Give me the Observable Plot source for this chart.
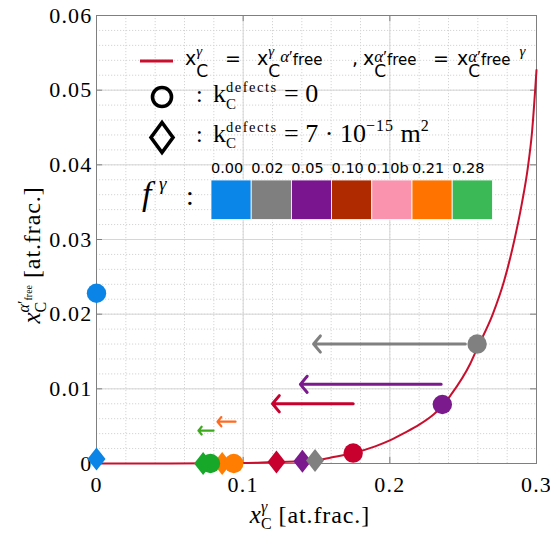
<!DOCTYPE html>
<html><head><meta charset="utf-8">
<script src="https://cdn.jsdelivr.net/npm/d3@7"></script>
<script src="https://cdn.jsdelivr.net/npm/@observablehq/plot@0.6"></script>
<style>
html,body{margin:0;padding:0;background:#fff}
#wrap{position:relative;width:550px;height:533px;overflow:hidden}
#wrap svg{display:block}
.t{position:absolute;left:0;top:0;white-space:nowrap;line-height:1;color:#000}
.serif{font-family:Liberation Serif,serif}
.sans{font-family:DejaVu Sans,sans-serif}
.st{display:inline-grid;align-items:baseline;justify-items:start}
.st>*{grid-area:1/1;position:relative}
i{font-style:italic}
</style></head><body><div id="wrap"></div>
<script>
// ---------- data ----------
const fLabels = ["0.00","0.02","0.05","0.10","0.10b","0.21","0.28"];
const fColors = ["#0A85E8","#7F7F7F","#7A148F","#B02A00","#F993AE","#FF7300","#3CB957"];

const xTicks = [0, 0.1, 0.2, 0.3];
const xTickLabels = ["0", "0.1", "0.2", "0.3"];
const yTicks = [0, 0.01, 0.02, 0.03, 0.04, 0.05, 0.06];
const yTickLabels = ["0", "0.01", "0.02", "0.03", "0.04", "0.05", "0.06"];

// equilibrium curve x_C^gamma -> x_C^alpha'free
const curveX = [0, 0.05, 0.08, 0.1, 0.11, 0.1227, 0.1404, 0.149, 0.16, 0.175, 0.19, 0.2, 0.21, 0.22, 0.23, 0.2358, 0.2413, 0.2549, 0.2595, 0.27, 0.278, 0.285, 0.29, 0.294, 0.297, 0.3];
const curveY = [0, 0, 0.00002, 0.00006, 0.0001, 0.0002, 0.0003, 0.0004, 0.0008, 0.0014, 0.0023, 0.0031, 0.0041, 0.0052, 0.0066, 0.0077, 0.0091, 0.0134, 0.0154, 0.0199, 0.0245, 0.03, 0.0348, 0.0395, 0.0445, 0.0527];

// circles: k_C^defects = 0
const circleF = ["0.00", "0.02", "0.05", "0.10", "0.28", "0.21"];
const circleX = [0, 0.2595, 0.2358, 0.175, 0.0777, 0.0936];
const circleY = [0.0228, 0.016, 0.0079, 0.0014, 0, 0];

// diamonds: k_C^defects = 7e-15 m^2
const diamondF = ["0.00", "0.10", "0.05", "0.02", "0.28", "0.21"];
const diamondX = [0, 0.1227, 0.1404, 0.149, 0.0727, 0.0857];
const diamondY = [0.0006, 0.0002, 0.0003, 0.0004, 0, 0];

// arrows (shift from circle to diamond)
const arrowF  = ["0.02", "0.05", "0.10", "0.21", "0.28"];
const arrowX1 = [0.2515, 0.235, 0.175, 0.0948, 0.0798];
const arrowX2 = [0.148, 0.139, 0.12, 0.0825, 0.0695];
const arrowY  = [0.016, 0.0106, 0.008, 0.0056, 0.0044];

// ---------- styles ----------
const markerColor = {"0.00":"#0A84E6","0.02":"#808080","0.05":"#7A1A8C","0.10":"#C8002E","0.21":"#FF7D00","0.28":"#17A82A"};
const arrowColor  = {"0.02":"#808080","0.05":"#7A1A8C","0.10":"#C8002E","0.21":"#FF6A1F","0.28":"#3DAA1E"};
const curveColor = "#C8102E";
const axisColor = "#7f7f7f";
const SERIF = "Liberation Serif, serif";

const curve = curveX.map((x, i) => ({x, y: curveY[i]}));
const circles = circleX.map((x, i) => ({x, y: circleY[i], f: circleF[i]}));
const diamonds = diamondX.map((x, i) => ({x, y: diamondY[i], f: diamondF[i]}));
const arrows = arrowX1.map((x1, i) => ({x1, x2: arrowX2[i], y: arrowY[i], f: arrowF[i]}));
const bigArrows = arrows.slice(0, 3), smallArrows = arrows.slice(3);

const xMinor = d3.range(0, 0.3001, 0.02);
const yMinor = d3.range(0, 0.06001, 0.002);

const tallDiamond = {
  draw(ctx, size) {
    const r = Math.sqrt(size / Math.PI);
    const h = r * 1.2, w = r * 0.95;
    ctx.moveTo(0, -h); ctx.lineTo(w, 0); ctx.lineTo(0, h); ctx.lineTo(-w, 0); ctx.closePath();
  }
};

const W = 550, H = 533;
const chart = Plot.plot({
  width: W, height: H,
  marginLeft: 96, marginRight: 14, marginTop: 15, marginBottom: 70,
  style: {fontFamily: SERIF, fontSize: "22px", color: "#000", background: "#fff", letterSpacing: "1.2px"},
  x: {domain: [0, 0.3], label: null},
  y: {domain: [0, 0.06], label: null},
  marks: [
    Plot.ruleX(xMinor, {stroke: "#d4d4d4", strokeDasharray: "1.2,1.8", strokeWidth: 1}),
    Plot.ruleY(yMinor, {stroke: "#d4d4d4", strokeDasharray: "1.2,1.8", strokeWidth: 1}),
    Plot.ruleX(xTicks, {stroke: "#d6d6d6", strokeWidth: 1}),
    Plot.ruleY(yTicks, {stroke: "#d6d6d6", strokeWidth: 1}),
    Plot.frame({stroke: axisColor, strokeWidth: 1}),
    Plot.tickY(yTicks, {y: d => d, stroke: axisColor, insetRight: 434}),
    Plot.tickY(yTicks, {y: d => d, stroke: axisColor, insetLeft: 434}),
    Plot.tickX(xTicks, {x: d => d, stroke: axisColor, insetTop: 442}),
    Plot.tickX(xTicks, {x: d => d, stroke: axisColor, insetBottom: 442}),
    Plot.axisX(xTicks, {tickSize: 0, tickPadding: 13, tickFormat: d => xTickLabels[xTicks.indexOf(d)], label: null, fontSize: 22, fontFamily: SERIF}),
    Plot.axisY(yTicks, {tickSize: 0, tickPadding: 4, tickFormat: d => yTickLabels[yTicks.indexOf(d)], label: null, fontSize: 22, fontFamily: SERIF}),
    Plot.line(curve, {x: "x", y: "y", stroke: curveColor, strokeWidth: 2, curve: "monotone-x"}),
    Plot.arrow(bigArrows, {x1: "x1", x2: "x2", y1: "y", y2: "y", stroke: d => arrowColor[d.f], strokeWidth: 3, headLength: 5.3, headAngle: 100}),
    Plot.arrow(smallArrows, {x1: "x1", x2: "x2", y1: "y", y2: "y", stroke: d => arrowColor[d.f], strokeWidth: 2.2, headLength: 5.3, headAngle: 100}),
    Plot.dot(diamonds, {x: "x", y: "y", symbol: tallDiamond, r: 9.5, fill: d => markerColor[d.f], stroke: "none"}),
    Plot.dot(circles, {x: "x", y: "y", symbol: "circle", r: 9.7, fill: d => markerColor[d.f], stroke: "none"})
  ]
});

const wrap = document.getElementById("wrap");
wrap.appendChild(chart);

// ---------- overlay legend (svg shapes) ----------
const ov = d3.select(wrap).append("svg")
  .attr("width", W).attr("height", H)
  .style("position", "absolute").style("left", 0).style("top", 0);
ov.append("line").attr("x1", 140).attr("x2", 173).attr("y1", 61).attr("y2", 61)
  .attr("stroke", curveColor).attr("stroke-width", 3);
ov.append("circle").attr("cx", 162).attr("cy", 97).attr("r", 9.5)
  .attr("fill", "none").attr("stroke", "#000").attr("stroke-width", 3.6);
ov.append("path").attr("d", "M162,122.5L173,137.5L162,152.5L151,137.5Z")
  .attr("fill", "none").attr("stroke", "#000").attr("stroke-width", 3.6);
const bx0 = 211, bw = 40.2;
ov.selectAll("rect.sw").data(fColors).join("rect")
  .attr("x", (d, i) => bx0 + i * bw).attr("y", 180).attr("width", bw).attr("height", 39.5)
  .attr("fill", d => d).attr("stroke", "#fff").attr("stroke-width", 0.8);

// ---------- text helper ----------
function txt(html, x, base, cls, align) {
  const d = document.createElement("div");
  d.className = "t " + cls;
  d.innerHTML = html + '<span class="bl" style="display:inline-block;width:0;height:0"></span>';
  wrap.appendChild(d);
  const r = d.getBoundingClientRect(), m = d.querySelector(".bl").getBoundingClientRect();
  const b = m.top - r.top, w = r.width;
  d.style.left = (align === "center" ? x - w / 2 : x) + "px";
  d.style.top = (base - b) + "px";
  return {d, b, w};
}
function st(u, du, l, dl) {
  return `<span class="st"><span style="top:${du}px">${u}</span><span style="top:${dl}px">${l}</span></span>`;
}

// line 1 legend (sans, MATLAB tex)
const gam = '<i class="serif" style="font-size:15px">γ</i>';
const alp = '<span class="serif" style="font-size:17px"><i>α</i>′</span>';
const fre = '<span style="font-size:15px">free</span>';
const Csub = '<span style="font-size:17px">C</span>';
const s1 = "font-size:19px";
txt(`<span style="${s1}">x</span>${st(gam, -9, Csub, 12)}`, 185, 65, "sans");
txt(`<span style="${s1}">=</span>`, 225, 65, "sans");
txt(`<span style="${s1}">x</span>${st(gam, -9, Csub, 12)}<span style="position:relative;top:-3px">${alp}</span>${fre}`, 257, 65, "sans");
txt(`<span style="${s1}">,</span>`, 352, 65, "sans");
txt(`<span style="${s1}">x</span>${st(`<span>${alp}</span>`, -3, Csub, 12)}${fre}`, 363, 65, "sans");
txt(`<span style="${s1}">=</span>`, 433, 65, "sans");
txt(`<span style="${s1}">x</span>${st(`<span>${alp}</span>`, -3, Csub, 12)}${fre}<span style="position:relative;top:-9px;margin-left:9px">${gam}</span>`, 457, 65, "sans");

// lines 2 and 3 (LaTeX)
const kdef = `<span style="font-size:26px">k</span>${st('<span style="font-size:14.5px;letter-spacing:1.5px">defects</span>', -10, '<span style="font-size:15px">C</span>', 6.5)}`;
txt('<span style="font-size:24px">:</span>', 196, 102, "serif");
txt(`${kdef}<span style="font-size:26px">&nbsp;= 0</span>`, 213, 102, "serif");
txt('<span style="font-size:24px">:</span>', 196, 141.5, "serif");
txt(`${kdef}<span style="font-size:26px">&nbsp;= 7 · 10</span><span style="font-size:16px;position:relative;top:-11px;letter-spacing:1px">−15</span><span style="font-size:26px">&nbsp;m</span><span style="font-size:16px;position:relative;top:-11px">2</span>`, 213, 141.5, "serif");

// colour bar labels
fLabels.forEach((l, i) => txt(`<span style="font-size:14.5px">${l}</span>`, bx0 + i * bw + bw / 2 - 4, 172.5, "sans", "center"));
txt('<i style="font-size:34px">f</i>', 142, 205, "serif");
txt('<i style="font-size:19px">γ</i>', 159, 190, "serif");
txt('<span style="font-size:28px">:</span>', 186, 205, "serif");

// axis labels
txt(`<i style="font-size:25px">x</i>${st('<i style="font-size:16px">γ</i>', -11, '<span style="font-size:16px">C</span>', 6)}<span style="font-size:24px;letter-spacing:0.9px">&nbsp;[at.frac.]</span>`, 310, 523, "serif", "center");
const yl = txt(`<i style="font-size:25px">x</i>${st('<span><i style="font-size:16px">α</i><span style="font-size:16px">′</span><span style="font-size:10px;position:relative;top:3px">free</span></span>', -11, '<span style="font-size:16px">C</span>', 6)}<span style="font-size:24px;letter-spacing:0.9px">&nbsp;[at.frac.]</span>`, 0, 0, "serif");
yl.d.style.left = (40 - yl.w / 2) + "px";
yl.d.style.top = (255 - yl.b) + "px";
yl.d.style.transformOrigin = `${yl.w / 2}px ${yl.b}px`;
yl.d.style.transform = "rotate(-90deg)";
</script></body></html>
